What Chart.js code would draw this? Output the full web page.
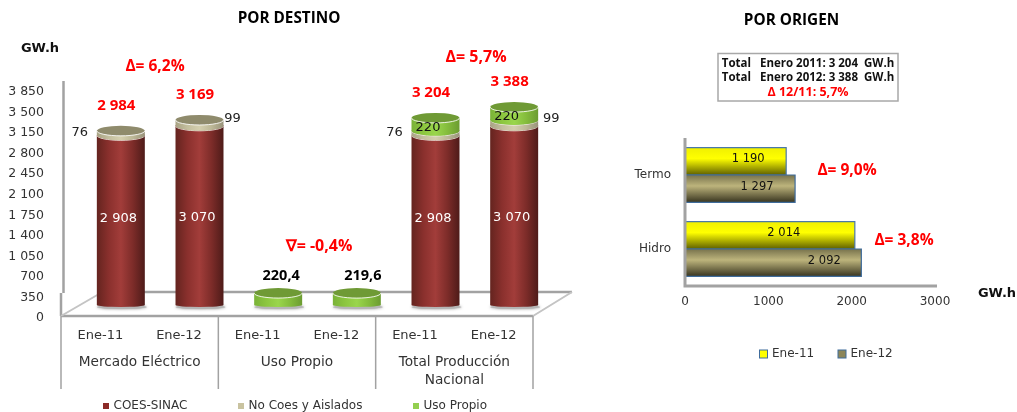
<!DOCTYPE html>
<html>
<head>
<meta charset="utf-8">
<title>Por destino / Por origen</title>
<script src="https://cdn.jsdelivr.net/npm/chart.js@4"></script>
<style>
  html, body { margin: 0; padding: 0; background: #fff; overflow: hidden; }
  body { width: 1017px; height: 412px; position: relative; }
  canvas { position: absolute; top: 0; }
  #destino { left: 0; }
  #origen { left: 600px; }
</style>
</head>
<body>
<canvas id="destino" width="600" height="412"></canvas>
<canvas id="origen" width="417" height="412"></canvas>
<script>
// left chart data
const categories = ['Ene-11', 'Ene-12', 'Ene-11', 'Ene-12', 'Ene-11', 'Ene-12'];
const groupLabels = [['Mercado Eléctrico'], ['Uso Propio'], ['Total Producción', 'Nacional']];
const coes = [2908, 3070, null, null, 2908, 3070];
const noCoes = [76, 99, null, null, 76, 99];
const usoPropio = [null, null, 220.4, 219.6, 220, 220];
const totals = ['2 984', '3 169', null, null, '3 204', '3 388'];
const usoLabels = ['220,4', '219,6'];
const yMax = 3850;
const yStep = 350;

// right chart data
const origenCategories = ['Termo', 'Hidro'];
const ene11 = [1190, 2014];
const ene12 = [1297, 2092];
const origenTicks = [0, 1000, 2000, 3000];

const SANS = '"DejaVu Sans"';
const BOLD = '"Open Sans"';
const RED = '#ff0000';
const AXIS = '#a2a2a2';
const LABEL = '#333333';

// the 3d look moves the bars off the front of the floor
const DEPTH_X = 20.5;
const DEPTH_Y = -12;
const RY = 5;

const fmt = v => String(v).replace(/\B(?=(\d{3})+$)/g, ' ');

function text(ctx, str, x, y, font, color, align) {
  ctx.font = font;
  ctx.fillStyle = color;
  ctx.textAlign = align || 'center';
  ctx.textBaseline = 'middle';
  ctx.fillText(str, x, y);
}

const skin = [
  { stops: ['#64241f', '#8a302d', '#a23d3a', '#7d2c29', '#4e1b19'], top: '#8c2b28' },
  { stops: ['#a8a384', '#c4bf9e', '#d4cfae', '#bdb897', '#98937a'], top: '#8f8b6c' },
  { stops: ['#7ab238', '#8cc63f', '#9ad64c', '#84bc3c', '#6c9c31'], top: '#6f9a35' }
];

function cylinder(ctx, el, s, isBase) {
  const cx = el.x + DEPTH_X;
  const rx = el.width / 2;
  const top = el.y + DEPTH_Y;
  const bot = el.base + DEPTH_Y;
  if (isBase) {
    ctx.save();
    ctx.shadowColor = 'rgba(0,0,0,0.45)';
    ctx.shadowBlur = 3;
    ctx.fillStyle = '#b5b5b5';
    ctx.beginPath();
    ctx.ellipse(cx + 1, bot + 1, rx + 1, 2, 0, 0, Math.PI * 2);
    ctx.fill();
    ctx.restore();
  }
  const g = ctx.createLinearGradient(cx - rx, 0, cx + rx, 0);
  s.stops.forEach((c, i) => g.addColorStop(i / (s.stops.length - 1), c));
  ctx.beginPath();
  ctx.moveTo(cx - rx, top);
  ctx.lineTo(cx - rx, isBase ? bot - 1 : bot);
  ctx.ellipse(cx, isBase ? bot - 1 : bot, rx, isBase ? 2 : RY, 0, Math.PI, 0, true);
  ctx.lineTo(cx + rx, top);
  ctx.closePath();
  ctx.fillStyle = g;
  ctx.fill();
  ctx.beginPath();
  ctx.ellipse(cx, top, rx, RY, 0, 0, Math.PI * 2);
  ctx.fillStyle = s.top;
  ctx.fill();
  ctx.beginPath();
  ctx.ellipse(cx, top, rx, RY, 0, 0, Math.PI);
  ctx.strokeStyle = 'rgba(255,255,255,0.85)';
  ctx.lineWidth = 1;
  ctx.stroke();
}

function squareLegend(ctx, chart, xs, y, size, font, border) {
  chart.data.datasets.forEach((d, i) => {
    ctx.fillStyle = d.backgroundColor;
    ctx.fillRect(xs[i], y - size / 2, size, size);
    if (border) {
      ctx.strokeStyle = border;
      ctx.lineWidth = 1;
      ctx.strokeRect(xs[i], y - size / 2, size, size);
    }
    text(ctx, d.label, xs[i] + size + 4.5, y, font, LABEL, 'left');
  });
}

const destinoPlugin = {
  id: 'destino3d',
  beforeDatasetDraw() { return false; },
  beforeDatasetsDraw(chart) {
    const { ctx, chartArea: a, scales: { y } } = chart;
    const front = y.getPixelForValue(0) - 2;
    const back = front - 24;
    ctx.save();
    ctx.strokeStyle = AXIS;
    ctx.lineWidth = 2.5;
    ctx.beginPath();
    ctx.moveTo(a.left + 2.5, 81);
    ctx.lineTo(a.left + 2.5, back + 1);
    ctx.stroke();
    ctx.beginPath();
    ctx.moveTo(a.left, back + 1);
    ctx.lineTo(a.left, front);
    ctx.moveTo(a.left, front);
    ctx.lineTo(a.right, front);
    ctx.moveTo(a.left + 38, back);
    ctx.lineTo(a.right + 39, back);
    ctx.stroke();
    ctx.strokeStyle = '#c4c4c4';
    ctx.lineWidth = 2;
    ctx.beginPath();
    ctx.moveTo(a.left, front);
    ctx.lineTo(a.left + 38, back + 2);
    ctx.moveTo(a.right, front);
    ctx.lineTo(a.right + 39, back);
    ctx.stroke();
    ctx.lineWidth = 1.5;
    ctx.strokeStyle = AXIS;
    [0, 2, 4, 6].forEach(i => {
      const x = a.left + (a.right - a.left) * i / 6;
      ctx.beginPath();
      ctx.moveTo(x, front);
      ctx.lineTo(x, 389);
      ctx.stroke();
    });
    chart.data.datasets.forEach((d, di) => {
      chart.getDatasetMeta(di).data.forEach((el, i) => {
        if (d.data[i] === null) return;
        const isBase = di === 0 || coes[i] === null;
        cylinder(ctx, el, skin[di], isBase);
      });
    });
    ctx.restore();
  },
  afterDatasetsDraw(chart) {
    const { ctx, chartArea: a } = chart;
    const m0 = chart.getDatasetMeta(0).data;
    const m1 = chart.getDatasetMeta(1).data;
    const m2 = chart.getDatasetMeta(2).data;
    ctx.save();
    categories.forEach((c, i) => {
      const left = i % 2 === 0;
      const cx = m0[i].x + DEPTH_X;
      if (coes[i] !== null) {
        const p = m0[i].getCenterPoint();
        text(ctx, fmt(coes[i]), cx - 2.5, p.y + DEPTH_Y + (left ? -2 : 2), '13px ' + SANS, '#ffffff');
        const n = m1[i].getCenterPoint();
        text(ctx, String(noCoes[i]), cx + (left ? -41 : (i === 1 ? 33 : 37)), n.y + DEPTH_Y + (left ? 0 : -4), '13px ' + SANS, '#222');
      }
      if (usoPropio[i] !== null && coes[i] !== null) {
        const u = m2[i].getCenterPoint();
        text(ctx, String(usoPropio[i]), cx - 7.5, u.y + DEPTH_Y + 3, '13px ' + SANS, '#111');
      }
      if (totals[i]) {
        const topEl = usoPropio[i] !== null ? m2[i] : m1[i];
        text(ctx, totals[i], cx - 4.5, topEl.y + DEPTH_Y - 25, 'bold 15px ' + BOLD, RED);
      }
      if (coes[i] === null) {
        text(ctx, usoLabels[i - 2], cx + (i === 2 ? 3 : 6), m2[i].y + DEPTH_Y - 17, 'bold 14.5px ' + BOLD, '#000');
      }
    });
    groupLabels.forEach((lines, g) => {
      const x = a.left + (a.right - a.left) * (g * 2 + 1) / 6;
      lines.forEach((l, k) => text(ctx, l, x, 362 + k * 18, '13.7px ' + SANS, LABEL));
    });
    text(ctx, 'POR DESTINO', 289, 18.5, 'bold 15.3px ' + BOLD, '#000');
    text(ctx, 'GW.h', 40, 49, 'bold 13px ' + SANS, '#111');
    text(ctx, 'Δ= 6,2%', 155, 67, 'bold 15.5px ' + BOLD, RED);
    text(ctx, 'Δ= 5,7%', 476, 57, 'bold 16px ' + BOLD, RED);
    text(ctx, '∇= -0,4%', 319, 246, 'bold 16px ' + BOLD, RED);
    squareLegend(ctx, chart, [103, 238, 413], 406, 6, '12px ' + SANS);
    ctx.restore();
  }
};

new Chart(document.getElementById('destino'), {
  type: 'bar',
  data: {
    labels: categories,
    datasets: [
      { label: 'COES-SINAC', data: coes, backgroundColor: '#8c2b28' },
      { label: 'No Coes y Aislados', data: noCoes, backgroundColor: '#c9c3a0' },
      { label: 'Uso Propio', data: usoPropio, backgroundColor: '#93cf50' }
    ]
  },
  options: {
    responsive: false,
    animation: false,
    barPercentage: 0.61,
    categoryPercentage: 1,
    layout: { padding: { top: 92, right: 67, left: 0, bottom: 0 } },
    plugins: { legend: { display: false }, tooltip: { enabled: false } },
    scales: {
      x: {
        stacked: true,
        afterFit: s => { s.height = 94; },
        grid: { display: false, drawTicks: false },
        border: { display: false },
        ticks: { autoSkip: false, maxRotation: 0, padding: 10, color: LABEL, font: { family: SANS, size: 13 } }
      },
      y: {
        stacked: true,
        min: 0,
        max: yMax,
        afterFit: s => { s.width = 61; },
        grid: { display: false, drawTicks: false },
        border: { display: false },
        ticks: { stepSize: yStep, padding: 17, color: LABEL, font: { family: SANS, size: 12.5 }, callback: fmt }
      }
    }
  },
  plugins: [destinoPlugin]
});

const barSkin = [
  { stops: ['#f0f000', '#ffff00', '#5f5f00'], border: '#4a78a8' },
  { stops: ['#77724c', '#bdb47c', '#38341f'], border: '#3f6c9c' }
];
// the bars stand a little past the value axis in the original
const BAR_SHIFT = 2;
const valueShift = [[-38, -71], [-38, -37]];

const origenPlugin = {
  id: 'origenBars',
  beforeDatasetDraw() { return false; },
  beforeDatasetsDraw(chart) {
    const { ctx, chartArea: a } = chart;
    ctx.save();
    chart.data.datasets.forEach((d, di) => {
      chart.getDatasetMeta(di).data.forEach(el => {
        const t = el.y - el.height / 2;
        const b = el.y + el.height / 2;
        const g = ctx.createLinearGradient(0, t, 0, b);
        g.addColorStop(0, barSkin[di].stops[0]);
        g.addColorStop(0.4, barSkin[di].stops[1]);
        g.addColorStop(1, barSkin[di].stops[2]);
        ctx.fillStyle = g;
        ctx.fillRect(el.base, t, el.x + BAR_SHIFT - el.base, b - t);
        ctx.strokeStyle = barSkin[di].border;
        ctx.lineWidth = 1.2;
        ctx.beginPath();
        ctx.moveTo(el.base, t);
        ctx.lineTo(el.x + BAR_SHIFT, t);
        ctx.lineTo(el.x + BAR_SHIFT, b);
        ctx.lineTo(el.base, b);
        ctx.stroke();
      });
    });
    ctx.strokeStyle = AXIS;
    ctx.lineWidth = 3;
    ctx.beginPath();
    ctx.moveTo(a.left, a.top);
    ctx.lineTo(a.left, a.bottom);
    ctx.lineTo(a.right + 2, a.bottom);
    ctx.stroke();
    ctx.restore();
  },
  afterDatasetsDraw(chart) {
    const { ctx } = chart;
    ctx.save();
    chart.data.datasets.forEach((d, di) => {
      chart.getDatasetMeta(di).data.forEach((el, i) => {
        text(ctx, fmt(d.data[i]), el.x + BAR_SHIFT + valueShift[di][i], el.y - 2, '11.5px ' + SANS, '#111');
      });
    });
    // this canvas starts at x=600
    text(ctx, 'POR ORIGEN', 191.5, 20.5, 'bold 15.3px ' + BOLD, '#000');
    ctx.strokeStyle = '#a8a8a8';
    ctx.lineWidth = 1.5;
    ctx.strokeRect(118, 53.5, 180, 47.5);
    text(ctx, 'Total   Enero 2011: 3 204  GW.h', 208, 63.5, 'bold 11.5px ' + BOLD, '#111');
    text(ctx, 'Total   Enero 2012: 3 388  GW.h', 208, 77.5, 'bold 11.5px ' + BOLD, '#111');
    text(ctx, 'Δ 12/11: 5,7%', 208, 92, 'bold 12.5px ' + BOLD, RED);
    text(ctx, 'Δ= 9,0%', 247, 171, 'bold 15.5px ' + BOLD, RED);
    text(ctx, 'Δ= 3,8%', 304, 241, 'bold 15.5px ' + BOLD, RED);
    text(ctx, 'GW.h', 397, 294, 'bold 13px ' + SANS, '#111');
    squareLegend(ctx, chart, [159.5, 238], 354, 8, '12px ' + SANS, '#3f6c9c');
    ctx.restore();
  }
};

new Chart(document.getElementById('origen'), {
  type: 'bar',
  data: {
    labels: origenCategories,
    datasets: [
      { label: 'Ene-11', data: ene11, backgroundColor: '#ffff00' },
      { label: 'Ene-12', data: ene12, backgroundColor: '#8c8659' }
    ]
  },
  options: {
    indexAxis: 'y',
    responsive: false,
    animation: false,
    barPercentage: 1,
    categoryPercentage: 0.74,
    layout: { padding: { top: 138, right: 82, left: 0, bottom: 0 } },
    plugins: { legend: { display: false }, tooltip: { enabled: false } },
    scales: {
      x: {
        min: origenTicks[0],
        max: origenTicks[origenTicks.length - 1],
        afterFit: s => { s.height = 126; },
        afterBuildTicks: s => { s.ticks = origenTicks.map(v => ({ value: v })); },
        grid: { display: false, drawTicks: false },
        border: { display: false },
        ticks: { padding: 9, color: LABEL, font: { family: SANS, size: 12 }, callback: v => String(v) }
      },
      y: {
        afterFit: s => { s.width = 85; },
        grid: { display: false, drawTicks: false },
        border: { display: false },
        ticks: { padding: 14, color: LABEL, font: { family: SANS, size: 12 } }
      }
    }
  },
  plugins: [origenPlugin]
});
</script>
</body>
</html>
